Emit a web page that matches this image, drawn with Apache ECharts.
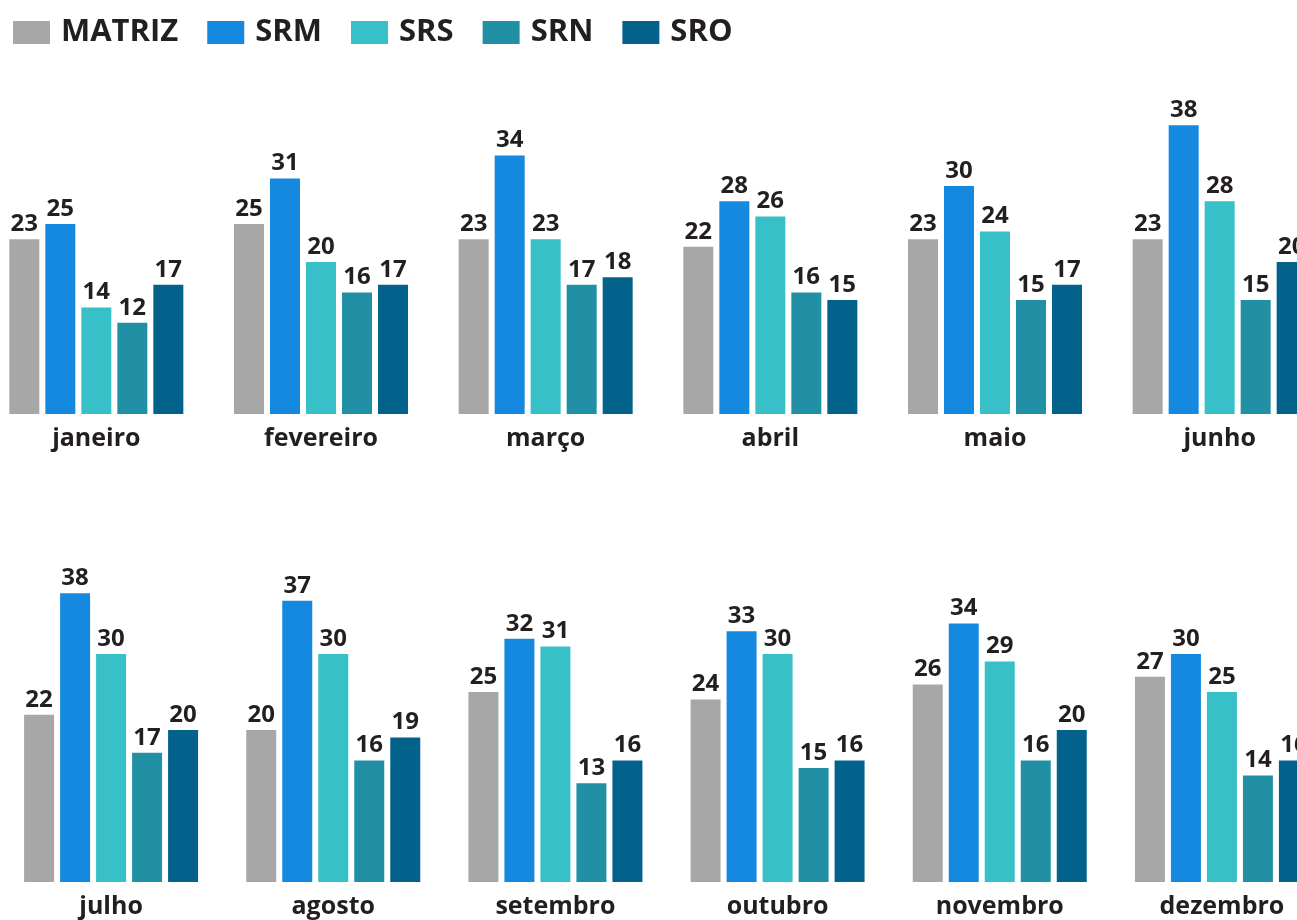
<!DOCTYPE html>
<html>
<head>
<meta charset="utf-8">
<script src="https://cdn.jsdelivr.net/npm/echarts@6/dist/echarts.min.js"></script>
<style>
html,body{margin:0;padding:0;background:#fff;}
#chart{width:1297px;height:920px;}
</style>
</head>
<body>
<div id="chart"></div>
<script>
var meses = ['janeiro','fevereiro','março','abril','maio','junho','julho','agosto','setembro','outubro','novembro','dezembro'];
var nomes = ['MATRIZ','SRM','SRS','SRN','SRO'];
var cores = ['#a7a7a7','#1589e0','#37c0c8','#2190a5','#03628c'];

var matriz = [23,25,23,22,23,23,22,20,25,24,26,27];
var srm    = [25,31,34,28,30,38,38,37,32,33,34,30];
var srs    = [14,20,23,26,24,28,30,30,31,30,29,25];
var srn    = [12,16,17,16,15,15,17,16,13,15,16,14];
var sro    = [17,17,18,15,17,20,20,19,16,16,20,16];

var valores = [matriz, srm, srs, srn, sro];
var fonte = '"Open Sans", sans-serif';

var chart = echarts.init(document.getElementById('chart'));

var series = [];
for (var g = 0; g < 2; g++) {
	for (var s = 0; s < nomes.length; s++) {
		series.push({
			name: nomes[s],
			type: 'bar',
			xAxisIndex: g,
			yAxisIndex: g,
			barWidth: 30,
			barGap: '20%',
			itemStyle: { color: cores[s] },
			label: {
				show: true,
				position: 'top',
				distance: 3,
				color: '#231f20',
				fontFamily: fonte,
				fontWeight: 'bold',
				fontSize: 24
			},
			data: valores[s].slice(g * 6, g * 6 + 6)
		});
	}
}

var eixoX = function(g) {
	return {
		type: 'category',
		gridIndex: g,
		data: meses.slice(g * 6, g * 6 + 6),
		axisLine: { show: false },
		axisTick: { show: false },
		axisLabel: {
			margin: 12,
			color: '#231f20',
			fontFamily: fonte,
			fontWeight: 'bold',
			fontSize: 25
		}
	};
};
var eixoY = function(g) {
	return {
		type: 'value',
		gridIndex: g,
		min: 0,
		max: 40,
		show: false,
		splitLine: { show: false }
	};
};

chart.setOption({
	animation: false,
	legend: {
		left: 8,
		top: 12,
		itemWidth: 37,
		itemHeight: 23,
		itemGap: 29,
		icon: 'rect',
		data: nomes,
		textStyle: {
			color: '#231f20',
			fontFamily: fonte,
			fontWeight: 'bold',
			fontSize: 31,
			padding: [0, 0, 0, 6]
		}
	},
	grid: [
		{ left: -16, width: 1348, top: 110, height: 304, outerBoundsMode: 'none' },
		{ left: 0, width: 1333, top: 578, height: 304, outerBoundsMode: 'none' }
	],
	xAxis: [eixoX(0), eixoX(1)],
	yAxis: [eixoY(0), eixoY(1)],
	series: series
});
</script>
</body>
</html>
